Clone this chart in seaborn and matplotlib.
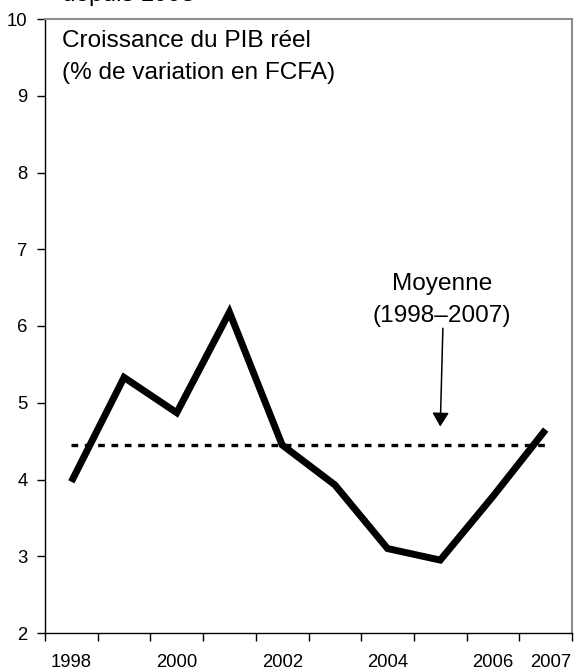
import numpy as np
import pandas as pd
import seaborn as sns
import matplotlib
import matplotlib.transforms as mtransforms
matplotlib.use('Agg')

from matplotlib import pyplot as plt

# croissance du PIB reel, % de variation
years = [1998, 1999, 2000, 2001, 2002, 2003, 2004, 2005, 2006, 2007]
growth = [3.97, 5.33, 4.87, 6.18, 4.45, 3.93, 3.10, 2.95, 3.78, 4.65]
year_labels = ['1998', '', '2000', '', '2002', '', '2004', '', '2006', '2007']
mean_years = [1998, 2007]
mean_growth = 4.45
y_ticks = [2, 3, 4, 5, 6, 7, 8, 9, 10]

sns.set_theme(style='white')
plt.rcParams['font.family'] = ['Liberation Sans', 'DejaVu Sans']

fig = plt.figure(figsize=(5.76, 6.7), dpi=100)
ax = fig.add_axes([45 / 576, 37 / 670, 527 / 576, 614 / 670])

df = pd.DataFrame({'year': years, 'growth': growth})
sns.lineplot(data=df, x='year', y='growth', color='black', linewidth=5,
             solid_joinstyle='miter', solid_capstyle='butt', ax=ax)

# moyenne 1998-2007
ax.plot(mean_years, [mean_growth, mean_growth], color='black', linewidth=2.4,
        linestyle=(0, (2, 2)))

ax.annotate('', xy=(2005.0, 4.69), xytext=(2005.05, 5.97),
            arrowprops=dict(arrowstyle='-|>,head_length=0.4,head_width=0.24',
                            mutation_scale=21, color='black', linewidth=1.1,
                            shrinkA=0, shrinkB=0))
ax.text(2005.03, 5.99, 'Moyenne\n(1998\u20132007)', ha='center', va='bottom',
        fontsize=17.6, multialignment='center', linespacing=1.6, color='black')

ax.text(0.032, 1 - 11 / 614, 'Croissance du PIB r\u00e9el\n(% de variation en FCFA)',
        transform=ax.transAxes, ha='left', va='top', fontsize=17.6,
        linespacing=1.6, color='black')

# texte coupe en haut de l'image
fig.text(62 / 576, 1 - 0.5 / 670, 'depuis 1998', ha='left', va='baseline',
         fontsize=17.6, color='black')

ax.set_xlim(years[0] - 0.5, years[-1] + 0.5)
ax.set_ylim(y_ticks[0], y_ticks[-1])
ax.set_yticks(y_ticks)
ax.set_xticks(np.append(np.array(years) - 0.5, years[-1] + 0.5))
ax.set_xticklabels([])
ax.set_xticks(years, minor=True)
ax.set_xticklabels(year_labels, minor=True)
ax.set_xlabel('')
ax.set_ylabel('')

ax.tick_params(axis='x', which='major', bottom=True, direction='out', length=6,
               width=1, color='black')
ax.tick_params(axis='x', which='minor', bottom=True, length=0, pad=15,
               labelsize=13.3, labelcolor='black')
ax.tick_params(axis='y', left=True, direction='out', length=6, width=1,
               color='black', pad=6.5, labelsize=13.3, labelcolor='black')

for side in ['left', 'bottom']:
    ax.spines[side].set_color('black')
    ax.spines[side].set_linewidth(1)
for side in ['top', 'right']:
    ax.spines[side].set_color('#8c8c8c')
    ax.spines[side].set_linewidth(1.5)

lab = ax.xaxis.get_minorticklabels()[-1]
lab.set_transform(lab.get_transform() + mtransforms.ScaledTranslation(5 / 100, 0, fig.dpi_scale_trans))

fig.savefig('out.png', dpi=100)
plt.close()
